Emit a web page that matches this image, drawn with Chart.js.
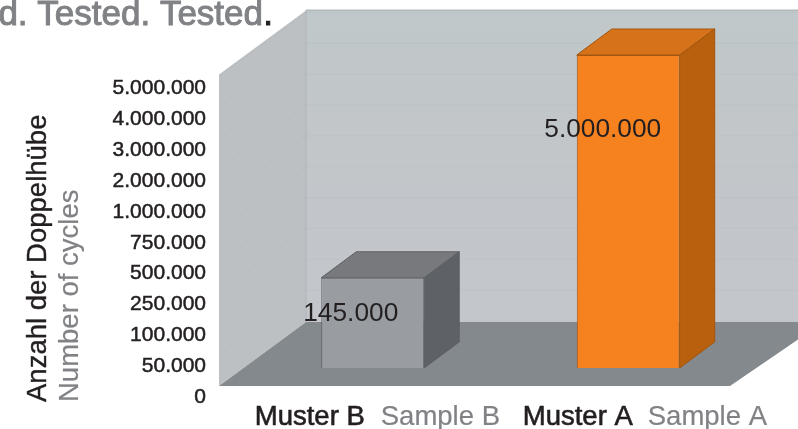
<!DOCTYPE html>
<html lang="de">
<head>
<meta charset="UTF-8">
<title>Anzahl der Doppelhübe</title>
<script src="https://cdn.jsdelivr.net/npm/chart.js"></script>
<style>
    body { margin: 0; background: #fff; overflow: hidden; }
    canvas { display: block; }
</style>
</head>
<body>
<canvas id="chart" width="798" height="429"></canvas>
<script>
// data
const categories = ['Muster B', 'Muster A'];
const categoriesEn = ['Sample B', 'Sample A'];
const tickValues = [0, 50000, 100000, 250000, 500000, 750000, 1000000, 2000000, 3000000, 4000000, 5000000];
const tickLabels = ['0', '50.000', '100.000', '250.000', '500.000', '750.000', '1.000.000', '2.000.000', '3.000.000', '4.000.000', '5.000.000'];
const printedValues = ['145.000', '5.000.000'];
// the original bar for 145.000 is not drawn to scale: its top reaches about 232.000 on this axis
const barReach = [232000, 5000000];

const FONT = '"Liberation Sans", Arial, sans-serif';
const INK = '#231f20';
const GREY = '#808285';

const barFront = ['#999ca0', '#f5821f'];
const barTop = ['#77797c', '#d6731a'];
const barSide = ['#5e6166', '#b9600f'];
const barEdge = ['#5c6064', '#a2560f'];

// axis steps are evenly spaced, so a value maps to its position between two ticks
function toLevel(v) {
    for (let i = 1; i < tickValues.length; i++) {
        if (v <= tickValues[i]) {
            return i - 1 + (v - tickValues[i - 1]) / (tickValues[i] - tickValues[i - 1]);
        }
    }
    return tickValues.length - 1;
}

function poly(ctx, pts, fill, stroke) {
    ctx.beginPath();
    pts.forEach((p, i) => i ? ctx.lineTo(p[0], p[1]) : ctx.moveTo(p[0], p[1]));
    ctx.closePath();
    ctx.fillStyle = fill;
    ctx.fill();
    if (stroke) {
        ctx.strokeStyle = stroke;
        ctx.lineWidth = 1;
        ctx.stroke();
    }
}

// fill plus a thin stroke, the original type is a bit heavier than Liberation regular
function heavyText(ctx, text, x, y, color, weight) {
    ctx.fillStyle = color;
    ctx.strokeStyle = color;
    ctx.lineWidth = weight;
    ctx.fillText(text, x, y);
    ctx.strokeText(text, x, y);
}

const room = {
    id: 'room',
    beforeDatasetsDraw(chart) {
        const ctx = chart.ctx;
        const area = chart.chartArea;
        const y = chart.scales.y;
        const dx = 87, dy = 64;
        const left = area.left - 26;
        const right = area.right - 26;
        const bottom = y.getPixelForValue(0) - 11;
        const top = y.getPixelForValue(10) - 14;

        // back wall
        const back = ctx.createLinearGradient(0, top - dy, 0, bottom - dy);
        back.addColorStop(0, '#bfc8ca');
        back.addColorStop(0.25, '#c1c6c9');
        back.addColorStop(1, '#c3c6cb');
        poly(ctx, [[left + dx, top - dy], [chart.width + 5, top - dy], [chart.width + 5, bottom - dy], [left + dx, bottom - dy]], back);
        // side wall
        poly(ctx, [[left, top], [left + dx, top - dy], [left + dx, bottom - dy], [left, bottom]], '#bcc0c3');
        ctx.fillStyle = '#b6bcbf';
        ctx.fillRect(left + dx - 1, top - dy, 2, bottom - top);
        // top edge of the back wall
        ctx.fillStyle = '#b4b8ba';
        ctx.fillRect(left + dx, top - dy - 1, chart.width, 1.5);

        // faint grid on the walls
        ctx.strokeStyle = 'rgba(150,158,162,0.1)';
        ctx.lineWidth = 1;
        for (let i = 1; i < tickValues.length; i++) {
            const py = y.getPixelForValue(i) - 12;
            ctx.beginPath();
            ctx.moveTo(left, py);
            ctx.lineTo(left + dx, py - dy);
            ctx.lineTo(chart.width, py - dy);
            ctx.stroke();
        }

        // floor
        poly(ctx, [[left, bottom], [left + dx, bottom - dy], [chart.width + 5, bottom - dy], [chart.width + 5, bottom - dy + 14], [right, bottom]], '#84898d');

        // bar top and side faces, taken from the bars Chart.js laid out
        const bdx = 35, bdy = 26;
        chart.getDatasetMeta(0).data.forEach((bar, i) => {
            const l = bar.x - bar.width / 2;
            const r = bar.x + bar.width / 2;
            poly(ctx, [[l, bar.y], [l + bdx, bar.y - bdy], [r + bdx, bar.y - bdy], [r, bar.y]], barTop[i], barEdge[i]);
            poly(ctx, [[r, bar.y], [r + bdx, bar.y - bdy], [r + bdx, bar.base - bdy], [r, bar.base]], barSide[i], barEdge[i]);
        });
    }
};

const captions = {
    id: 'captions',
    afterDraw(chart) {
        const ctx = chart.ctx;
        ctx.save();
        ctx.textBaseline = 'alphabetic';

        // cut-off headline
        ctx.font = '35px ' + FONT;
        ctx.textAlign = 'right';
        heavyText(ctx, '.', 273, 25, INK, 1);
        heavyText(ctx, 'Tested. Tested. Tested', 263, 25, GREY, 1);

        // axis titles
        ctx.textAlign = 'left';
        ctx.font = '27.5px ' + FONT;
        ctx.save();
        ctx.translate(46, 402);
        ctx.rotate(-Math.PI / 2);
        heavyText(ctx, 'Anzahl der Doppelhübe', 0, 0, INK, 0.4);
        ctx.restore();
        ctx.save();
        ctx.translate(78, 402);
        ctx.rotate(-Math.PI / 2);
        heavyText(ctx, 'Number of cycles', 0, 0, GREY, 0.2);
        ctx.restore();

        // category labels in two colours
        const x = chart.scales.x;
        const nameShift = [-118, -105.5];
        const enShift = [8, 19.5];
        ctx.font = '27.5px ' + FONT;
        categories.forEach((name, i) => {
            const px = x.getPixelForValue(i);
            heavyText(ctx, name, px + nameShift[i], 425, INK, 0.6);
            heavyText(ctx, categoriesEn[i], px + enShift[i], 425, GREY, 0.2);
        });

        // printed values on the bars
        const labelShift = [[-22, 36], [-25.5, 75]];
        ctx.font = '26.3px ' + FONT;
        ctx.textAlign = 'center';
        ctx.textBaseline = 'middle';
        ctx.fillStyle = INK;
        chart.getDatasetMeta(0).data.forEach((bar, i) => {
            ctx.fillText(printedValues[i], bar.x + labelShift[i][0], bar.y + labelShift[i][1]);
        });
        ctx.restore();
    }
};

new Chart(document.getElementById('chart'), {
    type: 'bar',
    data: {
        labels: categories,
        datasets: [{
            data: barReach.map(toLevel),
            yAxisID: 'yBar',
            backgroundColor: barFront,
            borderColor: barEdge,
            borderWidth: 1,
            barPercentage: 0.403,
            categoryPercentage: 1
        }]
    },
    plugins: [room, captions],
    options: {
        responsive: false,
        animation: false,
        layout: { padding: { top: 55, bottom: 32, right: 42 } },
        plugins: { legend: { display: false }, tooltip: { enabled: false } },
        scales: {
            x: { display: false },
            // bars stand on the floor, higher up than the axis labels
            yBar: { display: false, min: -0.93, max: 10 },
            y: {
                position: 'left',
                min: 0,
                max: 11.086,
                grid: { display: false },
                border: { display: false },
                // tick padding also eats height, only keep it sideways
                afterFit(scale) {
                    scale.width = 245;
                    scale.paddingTop = 0;
                    scale.paddingBottom = 0;
                },
                afterBuildTicks(scale) {
                    scale.ticks = tickLabels.map((t, i) => ({ value: i }));
                },
                ticks: {
                    autoSkip: false,
                    padding: 31,
                    color: INK,
                    textStrokeColor: INK,
                    textStrokeWidth: 0.5,
                    font: { family: FONT, size: 21 },
                    callback: value => tickLabels[value]
                }
            }
        }
    }
});
</script>
</body>
</html>
